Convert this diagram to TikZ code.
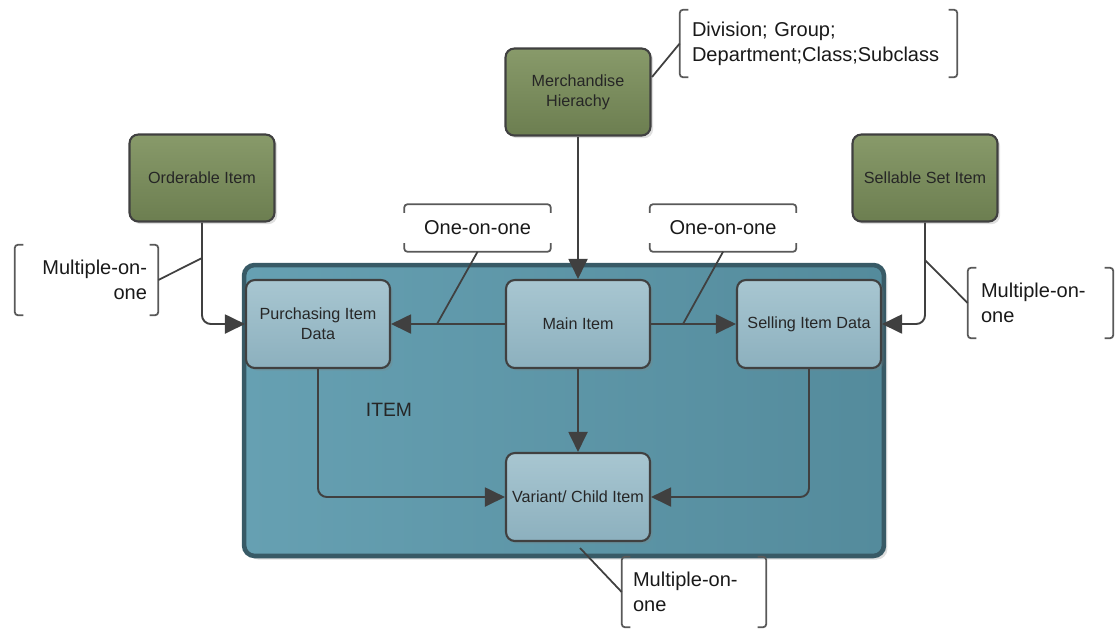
\documentclass[tikz,border=0pt]{standalone}
\usepackage{fontspec}
\setmainfont{Liberation Sans}
\usepackage{xcolor}
\usepackage{tikz}
\usetikzlibrary{arrows.meta,positioning,shadows}
\definecolor{olivetop}{RGB}{136,154,106}
\definecolor{olivebot}{RGB}{108,126,80}
\definecolor{teallight}{RGB}{102,160,178}
\definecolor{tealdark}{RGB}{84,139,156}
\definecolor{tealedge}{RGB}{56,90,102}
\definecolor{paletop}{RGB}{168,198,209}
\definecolor{palebot}{RGB}{140,176,190}
\definecolor{inkgray}{RGB}{64,64,64}

% square brackets left and right of a note
\newcommand{\sqbrackets}[1]{%
  \draw[bracketline] ([xshift=5pt]#1.north west) -- (#1.north west) -- (#1.south west) -- ([xshift=5pt]#1.south west);
  \draw[bracketline] ([xshift=-5pt]#1.north east) -- (#1.north east) -- (#1.south east) -- ([xshift=-5pt]#1.south east);}
% brackets above and below a note
\newcommand{\hzbrackets}[1]{%
  \draw[bracketline] ([yshift=-5pt]#1.north west) -- (#1.north west) -- (#1.north east) -- ([yshift=-5pt]#1.north east);
  \draw[bracketline] ([yshift=5pt]#1.south west) -- (#1.south west) -- (#1.south east) -- ([yshift=5pt]#1.south east);}

\begin{document}
\begin{tikzpicture}[x=0.02cm, y=-0.02cm,
greenbox/.style={draw=inkgray, line width=1.2pt, rounded corners=5pt, top color=olivetop, bottom color=olivebot, minimum width=2.9cm, minimum height=1.74cm, align=center, font=\fontsize{9.2}{11.3}\selectfont, text=black!85, drop shadow={opacity=0.25, shadow xshift=1.5pt, shadow yshift=-1.5pt}},
bluebox/.style={draw=inkgray, line width=1.2pt, rounded corners=5pt, top color=paletop, bottom color=palebot, minimum width=2.88cm, minimum height=1.76cm, align=center, font=\fontsize{9.2}{11.3}\selectfont, text=black!85, drop shadow={opacity=0.25, shadow xshift=1.5pt, shadow yshift=-1.5pt}},
itembox/.style={draw=tealedge, line width=2.6pt, rounded corners=6pt, left color=teallight, right color=tealdark, minimum width=12.8cm, minimum height=5.82cm, drop shadow={opacity=0.25, shadow xshift=2pt, shadow yshift=-2pt}},
note/.style={font=\fontsize{11.4}{14.2}\selectfont, text=black!90, inner ysep=0pt},
bracketline/.style={draw=black!65, line width=1pt, rounded corners=2pt},
conn/.style={draw=inkgray, line width=1.1pt, -{Triangle[length=0.4cm, width=0.38cm]}},
leader/.style={draw=inkgray, line width=1pt}
]
\useasboundingbox (0,0) rectangle (1118,630);

% outer ITEM area
\node[itembox] (item) at (564,410.5) {};
\node[font=\fontsize{11}{13}\selectfont, text=black!85] (itl) at (389,410) {ITEM};

% boxes
\node[greenbox] (mh) at (578,92) {Merchandise\\Hierachy};
\node[greenbox] (oi) at (202,178) {Orderable Item};
\node[greenbox] (ssi) at (925,178) {Sellable Set Item};
\node[bluebox] (pid) at (318,324) {Purchasing Item\\Data};
\node[bluebox] (mi) at (578,324) {Main Item};
\node[bluebox] (sid) at (809,324) {Selling Item Data};
\node[bluebox] (vci) at (578,497) {Variant/ Child Item};

% notes
\node[note, align=left, text width=5.06cm, inner xsep=0.24cm, minimum height=1.34cm] (hier) at (818.5,43.5) {Division; Group;\\Department;Class;Subclass};
\node[note, align=right, text width=2.42cm, inner xsep=0.22cm, minimum height=1.4cm] (multl) at (86.5,280) {Multiple-on-\\one};
\node[note, align=left, text width=2.38cm, inner xsep=0.26cm, minimum height=1.4cm] (multr) at (1040.5,303) {Multiple-on-\\one};
\node[note, align=left, text width=2.44cm, inner xsep=0.22cm, minimum height=1.4cm] (multb) at (694,592) {Multiple-on-\\one};
\node[note, minimum width=2.92cm, minimum height=0.94cm] (onel) at (477.5,228) {One-on-one};
\node[note, minimum width=2.92cm, minimum height=0.94cm] (oner) at (723,228) {One-on-one};
\sqbrackets{hier}
\sqbrackets{multl}
\sqbrackets{multr}
\sqbrackets{multb}
\hzbrackets{onel}
\hzbrackets{oner}

% connectors
\draw[conn] (mh) -- (mi);
\draw[conn] (mi) -- (pid);
\draw[conn] (mi) -- (sid);
\draw[conn] (mi) -- (vci);
\draw[conn, rounded corners=5pt] (pid.south) |- (vci.west);
\draw[conn, rounded corners=5pt] (sid.south) |- (vci.east);
\draw[conn, rounded corners=5pt] (oi.south) |- (pid.west);
\draw[conn, rounded corners=5pt] (ssi.south) |- (sid.east);

% leader lines to the notes
\coordinate (mhc) at (652,77);
\coordinate (ordc) at (202,258);
\coordinate (selc) at (925,260);
\coordinate (pidc) at (437,324);
\coordinate (sidc) at (683,324);
\coordinate (vcic) at (580,548);
\draw[leader] (mhc) -- (hier.west);
\draw[leader] (multl.east) -- (ordc);
\draw[leader] (selc) -- (multr.west);
\draw[leader] (onel.south) -- (pidc);
\draw[leader] (oner.south) -- (sidc);
\draw[leader] (vcic) -- (multb.west);
\end{tikzpicture}
\end{document}
